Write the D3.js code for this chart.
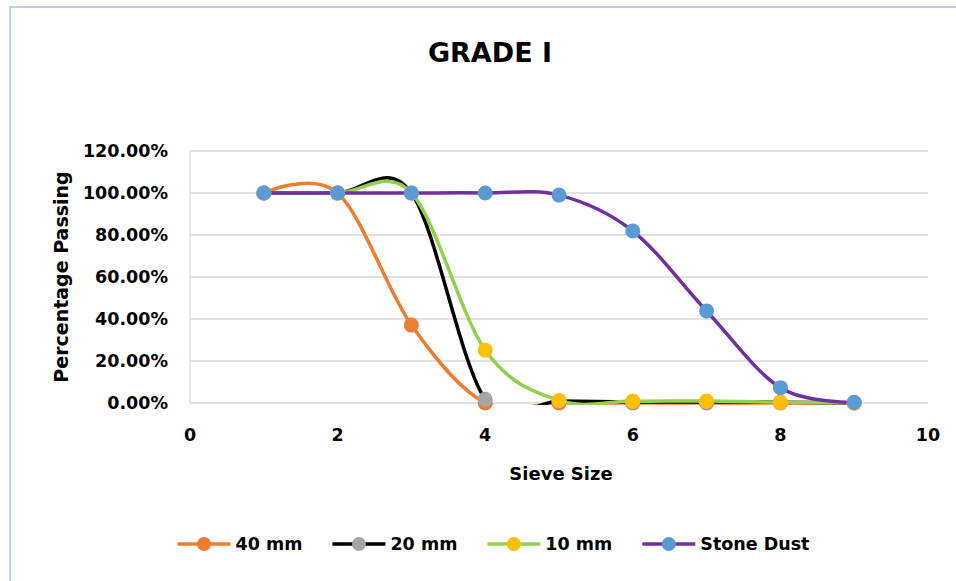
<!DOCTYPE html>
<html>
<head>
<meta charset="utf-8">
<script src="https://cdn.jsdelivr.net/npm/d3@7"></script>
<style>
  body { margin: 0; background: #fff; }
  svg { display: block; font-family: "DejaVu Sans", sans-serif; font-weight: bold; }
</style>
</head>
<body>
<svg id="chart" width="956" height="581"></svg>
<script>
// DATA
const sieveSizes = [1, 2, 3, 4, 5, 6, 7, 8, 9];
const seriesNames = ["40 mm", "20 mm", "10 mm", "Stone Dust"];
const passing40 = [100, 100, 37.1, 0, 0, 0, 0, 0, 0];
const passing20 = [100, 100, 100, 1.8, 1.0, 0.5, 0.5, 0.4, 0];
const passing10 = [100, 100, 100, 25.2, 1.2, 0.9, 0.9, 0.4, 0];
const passingDust = [100, 100, 100, 100, 99.0, 81.9, 43.8, 7.3, 0.3];
const xTicks = [0, 2, 4, 6, 8, 10];
const yTicks = [0, 20, 40, 60, 80, 100, 120];

const lineColors = ["#ed7d31", "#000000", "#92d050", "#7030a0"];
const markerColors = ["#ed7d31", "#a5a5a5", "#ffc000", "#5b9bd5"];

const allValues = [passing40, passing20, passing10, passingDust];
const series = seriesNames.map((name, i) => ({
  name: name,
  line: lineColors[i],
  marker: markerColors[i],
  points: sieveSizes.map((s, j) => ({ x: s, y: allValues[i][j] }))
}));

const svg = d3.select("#chart");

// chart area border (only top and left are inside the picture)
svg.append("rect")
  .attr("x", 10).attr("y", 7)
  .attr("width", 1000).attr("height", 1000)
  .attr("fill", "none")
  .attr("stroke", "#9dc3e6")
  .attr("stroke-width", 1.5);

const plot = { left: 190, right: 928, top: 151, bottom: 403 };

const x = d3.scaleLinear().domain([0, 10]).range([plot.left, plot.right]);
const y = d3.scaleLinear().domain([0, 120]).range([plot.bottom, plot.top]);

// GRIDLINES
svg.append("g")
  .selectAll("line")
  .data(yTicks)
  .enter()
  .append("line")
  .attr("x1", plot.left).attr("x2", plot.right)
  .attr("y1", d => y(d)).attr("y2", d => y(d))
  .attr("stroke", "#d9d9d9")
  .attr("stroke-width", 1.3);

// value axis line
svg.append("line")
  .attr("x1", plot.left).attr("x2", plot.left)
  .attr("y1", plot.top).attr("y2", plot.bottom)
  .attr("stroke", "#d9d9d9")
  .attr("stroke-width", 1.3);

// TICK LABELS
svg.append("g")
  .selectAll("text")
  .data(yTicks)
  .enter()
  .append("text")
  .attr("x", 168)
  .attr("y", d => y(d))
  .attr("dy", "0.36em")
  .attr("text-anchor", "end")
  .style("font-size", "17.5px")
  .text(d => d3.format(".2f")(d) + "%");

svg.append("g")
  .selectAll("text")
  .data(xTicks)
  .enter()
  .append("text")
  .attr("x", d => x(d))
  .attr("y", 441)
  .attr("text-anchor", "middle")
  .style("font-size", "17.5px")
  .text(d => d);

// AXIS TITLES
svg.append("text")
  .attr("transform", "translate(68,277) rotate(-90)")
  .attr("text-anchor", "middle")
  .style("font-size", "19px")
  .text("Percentage Passing");

svg.append("text")
  .attr("x", 561)
  .attr("y", 480)
  .attr("text-anchor", "middle")
  .style("font-size", "18px")
  .text("Sieve Size");

// TITLE
svg.append("text")
  .attr("x", 490)
  .attr("y", 62)
  .attr("text-anchor", "middle")
  .style("font-size", "27px")
  .text("GRADE I");

// clip the lines to the plot area like the spreadsheet does
svg.append("clipPath")
  .attr("id", "plotClip")
  .append("rect")
  .attr("x", plot.left).attr("y", plot.top - 2)
  .attr("width", plot.right - plot.left)
  .attr("height", plot.bottom - plot.top + 4);

const line = d3.line()
  .x(d => x(d.x))
  .y(d => y(d.y))
  .curve(d3.curveCardinal.tension(0));

// SERIES LINES
svg.append("g")
  .attr("clip-path", "url(#plotClip)")
  .selectAll("path")
  .data(series)
  .enter()
  .append("path")
  .attr("d", d => line(d.points))
  .attr("fill", "none")
  .attr("stroke", d => d.line)
  .attr("stroke-width", 3.5)
  .attr("stroke-linejoin", "round");

// MARKERS
series.forEach(s => {
  svg.append("g")
    .selectAll("circle")
    .data(s.points)
    .enter()
    .append("circle")
    .attr("cx", d => x(d.x))
    .attr("cy", d => y(d.y))
    .attr("r", 7.5)
    .attr("fill", s.marker);
});

// LEGEND
const legend = svg.append("g");
let cursor = 0;
series.forEach(s => {
  const item = legend.append("g").attr("transform", `translate(${cursor},0)`);
  item.append("line")
    .attr("x1", 0).attr("x2", 53)
    .attr("y1", 0).attr("y2", 0)
    .attr("stroke", s.line)
    .attr("stroke-width", 3.5);
  item.append("circle")
    .attr("cx", 26.5).attr("cy", 0)
    .attr("r", 7)
    .attr("fill", s.marker);
  const label = item.append("text")
    .attr("x", 58)
    .attr("dy", "0.36em")
    .style("font-size", "17.5px")
    .text(s.name);
  cursor += 58 + label.node().getComputedTextLength() + 30;
});
const legendWidth = cursor - 30;
legend.attr("transform", `translate(${493.5 - legendWidth / 2},544)`);
</script>
</body>
</html>
